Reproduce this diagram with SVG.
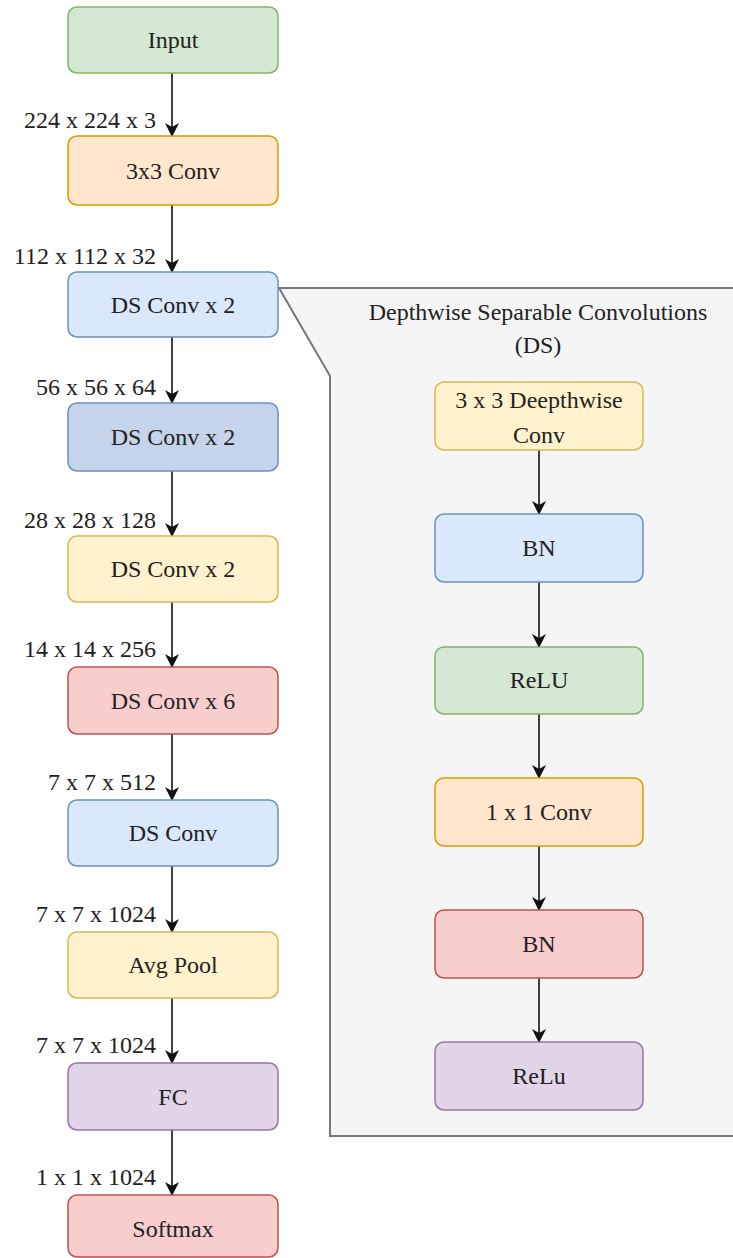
<svg xmlns="http://www.w3.org/2000/svg" width="733" height="1258" viewBox="0 0 733 1258">
<defs>
<marker id="arr" markerWidth="14" markerHeight="16" refX="13" refY="7" orient="auto" markerUnits="userSpaceOnUse">
<path d="M0,0 L14,7 L0,14 L4,7 Z" fill="#111"/>
</marker>
<style>
.c{text-anchor:middle;}
.l{text-anchor:end;}
rect{stroke-width:1.5;}
.green{fill:#d5e8d4;stroke:#82b366;}
.orange{fill:#ffe6cc;stroke:#d79b00;}
.blue{fill:#dae8fc;stroke:#6c8ebf;}
.dblue{fill:#c5d4ea;stroke:#6c8ebf;}
.yellow{fill:#fff2cc;stroke:#d6b656;}
.red{fill:#f8cecc;stroke:#b85450;}
.purple{fill:#e1d5e7;stroke:#9673a6;}
.edge{stroke:#111;stroke-width:1.6;fill:none;marker-end:url(#arr);}
</style>
</defs>
<rect width="733" height="1258" fill="#ffffff" style="stroke:none"/>
<g font-family="Liberation Serif, DejaVu Serif, serif" font-size="24" fill="#222">
<g id="panel">
<path d="M279 288 L740 288 L740 1136 L330 1136 L330 376 Z" fill="#f5f5f5" stroke="#777" stroke-width="2"/>
<text class="c" x="538" y="320">Depthwise Separable Convolutions</text>
<text class="c" x="538" y="353">(DS)</text>
</g>
<g id="connectors">
<path class="edge" d="M172 73 L172 136"/>
<path class="edge" d="M172 205 L172 272"/>
<path class="edge" d="M172 337 L172 403"/>
<path class="edge" d="M172 471 L172 536"/>
<path class="edge" d="M172 602 L172 667"/>
<path class="edge" d="M172 734 L172 800"/>
<path class="edge" d="M172 866 L172 932"/>
<path class="edge" d="M172 998 L172 1063"/>
<path class="edge" d="M172 1130 L172 1195"/>
<path class="edge" d="M539 450 L539 514"/>
<path class="edge" d="M539 582 L539 647"/>
<path class="edge" d="M539 714 L539 778"/>
<path class="edge" d="M539 846 L539 910"/>
<path class="edge" d="M539 978 L539 1042"/>
</g>
<g id="labels">
<text class="l" x="156" y="128">224 x 224 x 3</text>
<text class="l" x="156" y="264">112 x 112 x 32</text>
<text class="l" x="156" y="395">56 x 56 x 64</text>
<text class="l" x="156" y="528">28 x 28 x 128</text>
<text class="l" x="156" y="657">14 x 14 x 256</text>
<text class="l" x="156" y="790">7 x 7 x 512</text>
<text class="l" x="156" y="922">7 x 7 x 1024</text>
<text class="l" x="156" y="1053">7 x 7 x 1024</text>
<text class="l" x="156" y="1185">1 x 1 x 1024</text>
</g>
<g id="n-input"><rect class="green" x="68" y="7" width="210" height="66" rx="9"/><text class="c" x="173" y="48">Input</text></g>
<g id="n-conv"><rect class="orange" x="68" y="136" width="210" height="69" rx="9"/><text class="c" x="173" y="179">3x3 Conv</text></g>
<g id="n-ds1"><rect class="blue" x="68" y="272" width="210" height="65" rx="9"/><text class="c" x="173" y="313">DS Conv x 2</text></g>
<g id="n-ds2"><rect class="dblue" x="68" y="403" width="210" height="68" rx="9"/><text class="c" x="173" y="445">DS Conv x 2</text></g>
<g id="n-ds3"><rect class="yellow" x="68" y="536" width="210" height="66" rx="9"/><text class="c" x="173" y="577">DS Conv x 2</text></g>
<g id="n-ds6"><rect class="red" x="68" y="667" width="210" height="67" rx="9"/><text class="c" x="173" y="709">DS Conv x 6</text></g>
<g id="n-ds"><rect class="blue" x="68" y="800" width="210" height="66" rx="9"/><text class="c" x="173" y="841">DS Conv</text></g>
<g id="n-avg"><rect class="yellow" x="68" y="932" width="210" height="66" rx="9"/><text class="c" x="173" y="973">Avg Pool</text></g>
<g id="n-fc"><rect class="purple" x="68" y="1063" width="210" height="67" rx="9"/><text class="c" x="173" y="1105">FC</text></g>
<g id="n-softmax"><rect class="red" x="68" y="1195" width="210" height="62" rx="9"/><text class="c" x="173" y="1237">Softmax</text></g>
<g id="n-dw"><rect class="yellow" x="435" y="382" width="208" height="68" rx="9"/><text class="c" x="539" y="408">3 x 3 Deepthwise</text><text class="c" x="539" y="443">Conv</text></g>
<g id="n-bn1"><rect class="blue" x="435" y="514" width="208" height="68" rx="9"/><text class="c" x="539" y="556">BN</text></g>
<g id="n-relu1"><rect class="green" x="435" y="647" width="208" height="67" rx="9"/><text class="c" x="539" y="688">ReLU</text></g>
<g id="n-pw"><rect class="orange" x="435" y="778" width="208" height="68" rx="9"/><text class="c" x="539" y="820">1 x 1 Conv</text></g>
<g id="n-bn2"><rect class="red" x="435" y="910" width="208" height="68" rx="9"/><text class="c" x="539" y="952">BN</text></g>
<g id="n-relu2"><rect class="purple" x="435" y="1042" width="208" height="68" rx="9"/><text class="c" x="539" y="1084">ReLu</text></g>
</g>
</svg>
